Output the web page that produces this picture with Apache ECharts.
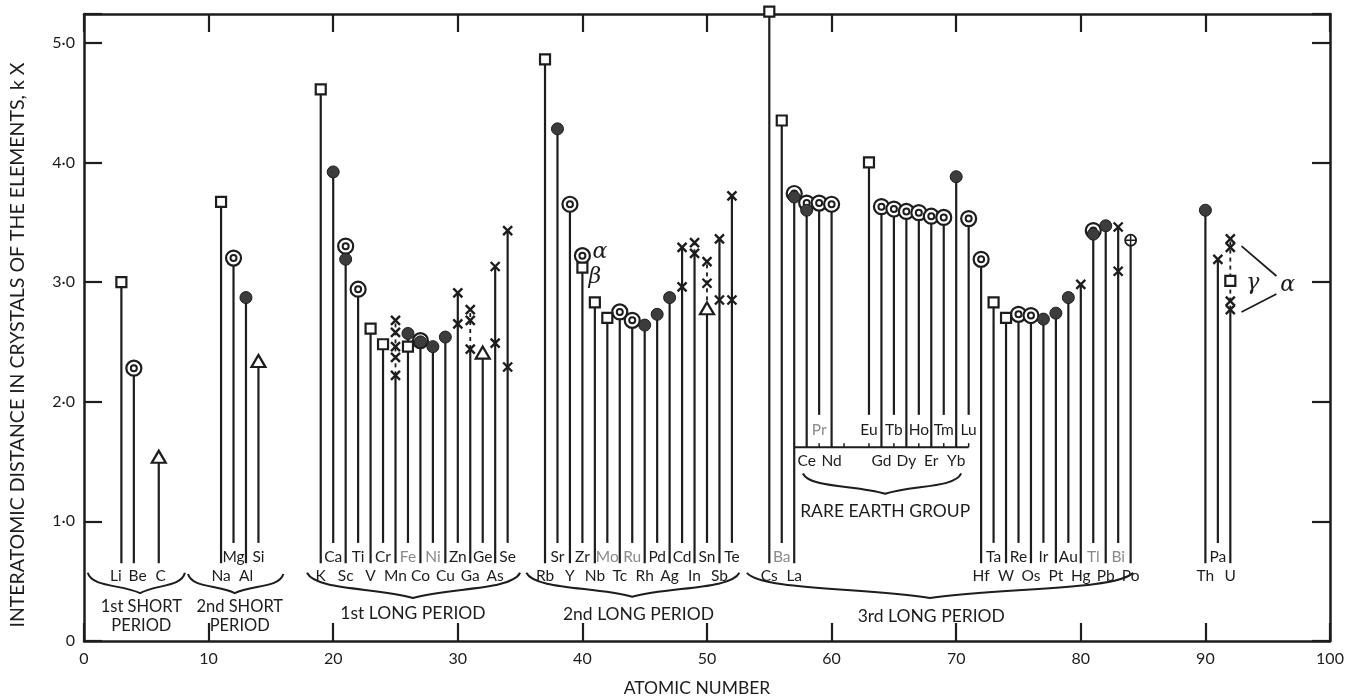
<!DOCTYPE html>
<html><head><meta charset="utf-8">
<script src="https://cdn.jsdelivr.net/npm/echarts@6/dist/echarts.min.js"></script>
<style>html,body{margin:0;padding:0;background:#fff}#c{width:1359px;height:697px}</style>
</head><body><div id="c"></div>
<script>
// ================= DATA =================
const atomicNumbers = [3,4,6,11,12,13,14,19,20,21,22,23,24,25,26,27,28,29,30,31,32,33,34,
  37,38,39,40,41,42,43,44,45,46,47,48,49,50,51,52,
  55,56,57,58,59,60,63,64,65,66,67,68,69,70,71,72,73,74,75,76,77,78,79,80,81,82,83,84,90,91,92];
const elementSymbols = ['Li','Be','C','Na','Mg','Al','Si','K','Ca','Sc','Ti','V','Cr','Mn','Fe','Co','Ni','Cu','Zn','Ga','Ge','As','Se',
  'Rb','Sr','Y','Zr','Nb','Mo','Tc','Ru','Rh','Pd','Ag','Cd','In','Sn','Sb','Te',
  'Cs','Ba','La','Ce','Pr','Nd','Eu','Gd','Tb','Dy','Ho','Er','Tm','Yb','Lu','Hf','Ta','W','Re','Os','Ir','Pt','Au','Hg','Tl','Pb','Bi','Po','Th','Pa','U'];

// [atomic number, interatomic distance kX]
const squarePoints = [[3,3.00],[11,3.67],[19,4.61],[23,2.61],[24,2.48],[26,2.46],[37,4.86],[40,3.12],[41,2.83],[42,2.70],
  [55,5.26],[56,4.35],[63,4.00],[73,2.83],[74,2.70],[92,3.01]];
const filledCirclePoints = [[13,2.87],[20,3.92],[21,3.19],[26,2.57],[27,2.50],[28,2.46],[29,2.54],[38,4.28],[45,2.64],[46,2.73],[47,2.87],
  [57,3.71],[58,3.60],[70,3.88],[77,2.69],[78,2.74],[79,2.87],[81,3.40],[82,3.47],[90,3.60]];
const doubleCirclePoints = [[4,2.28],[12,3.20],[21,3.30],[22,2.94],[27,2.51],[39,3.65],[40,3.22],[43,2.75],[44,2.68],
  [57,3.74],[58,3.66],[59,3.66],[60,3.65],[64,3.63],[65,3.61],[66,3.59],[67,3.58],[68,3.55],[69,3.54],[71,3.53],[72,3.19],
  [75,2.73],[76,2.72],[81,3.43]];
const trianglePoints = [[6,1.54],[14,2.34],[32,2.41],[50,2.78]];
const crossPoints = [[25,2.68],[25,2.58],[25,2.46],[25,2.37],[25,2.22],[30,2.91],[30,2.65],[31,2.77],[31,2.68],[31,2.44],
  [33,2.49],[33,3.13],[34,2.29],[34,3.43],[48,3.29],[48,2.96],[49,3.33],[49,3.24],[50,3.17],[50,2.99],[51,3.36],[51,2.85],
  [52,2.85],[52,3.72],[80,2.98],[83,3.46],[83,3.09],[91,3.19],[92,3.36],[92,3.29],[92,2.84],[92,2.77]];
const circledPlusPoints = [[84,3.35]];

const xTicks = [0,10,20,30,40,50,60,70,80,90,100];
const yTickLabels = ['0','1·0','2·0','3·0','4·0','5·0'];

const periodNames = ['1st SHORT\nPERIOD','2nd SHORT\nPERIOD','1st LONG PERIOD','2nd LONG PERIOD','3rd LONG PERIOD','RARE EARTH GROUP'];
const periodSpans = [[0.3,8.1],[8.35,16.0],[17.9,35.0],[35.5,52.6],[53.2,84.2],[57.7,70.4]];
const periodCentres = [4.5,12.1,26.4,44.0,67.9,64.3];
const periodTextCentres = [4.6,12.5,26.4,44.5,68.0,64.3];
const rareEarthRuler = [57,71];
const rareEarthRulerTicks = [59,61,63,65,67,69,71];

const greekNotes = [[41.4,3.25,'α'],[41.0,3.04,'β'],[93.8,2.99,'γ'],[96.6,2.97,'α']];
const noteLinks = [[92.9,3.30,95.7,3.05],[92.9,2.75,95.7,2.90]];

// ================= LAYOUT / STYLE =================
const INK = '#1d1d1d';
const FONT = 'Lato, "Open Sans", sans-serif';
const ROW = {low:{label:0.54, stem:0.65}, high:{label:0.70, stem:0.82},
             reLow:{label:1.505, stem:1.62}, reHigh:{label:1.765, stem:1.89}};
const raisedSet = new Set(['Mg','Si','Ca','Ti','Cr','Fe','Ni','Zn','Ge','Se','Sr','Zr','Mo','Ru','Pd','Cd','Sn','Te','Ba','Ta','Re','Ir','Au','Tl','Bi','Pa']);
const reLowSet = new Set(['Ce','Nd','Gd','Dy','Er','Yb']);
const reHighSet = new Set(['Pr','Eu','Tb','Ho','Tm','Lu']);
const greySet = new Set(['Fe','Ni','Mo','Ru','Pr','Tl','Bi','Ba']);
const labelShift = {Li:-0.45, Be:0.3, C:0.15};
const periodFont = ['16.5px','16.5px','17.5px','17.5px','17.5px','17.5px'];
const dashedLinks = [25,31,49,50,92];
function rowOf(s){ if(reLowSet.has(s)) return ROW.reLow; if(reHighSet.has(s)) return ROW.reHigh; if(raisedSet.has(s)) return ROW.high; return ROW.low; }

const allPoints = [].concat(squarePoints, filledCirclePoints, doubleCirclePoints, trianglePoints, crossPoints, circledPlusPoints);
const stemData = atomicNumbers.map((z,i)=>{
  const vals = allPoints.filter(p=>p[0]===z).map(p=>p[1]);
  return [z, rowOf(elementSymbols[i]).stem, Math.min(...vals), Math.max(...vals)];
});
const labelData = atomicNumbers.map((z,i)=>[z + (labelShift[elementSymbols[i]]||0), rowOf(elementSymbols[i]).label, elementSymbols[i]]);
// brace vertical placement (value units): [endY, pointY, textY]
const braceV = [[0.57,0.40,0.21],[0.56,0.40,0.21],[0.57,0.36,0.23],[0.57,0.37,0.225],[0.57,0.36,0.21],[1.40,1.23,1.085]];

const chart = echarts.init(document.getElementById('c'), null, {renderer:'canvas'});

function axisCommon(){ return {
  axisLine:{show:true, onZero:false, lineStyle:{color:INK, width:2.5}},
  axisTick:{show:true, inside:true, length:18, lineStyle:{color:INK, width:2.2}},
  splitLine:{show:false}
};}

const option = {
  animation:false,
  backgroundColor:'#ffffff',
  grid:{left:84, right:29, top:14, bottom:56, containLabel:false},
  xAxis:[
    Object.assign(axisCommon(), {type:'value', min:0, max:100, interval:10, position:'bottom',
      axisLabel:{color:INK, fontSize:16, fontFamily:FONT, margin:10,
        formatter:v=> xTicks.includes(v) ? String(v) : ''}}),
    Object.assign(axisCommon(), {type:'value', min:0, max:100, interval:10, position:'top', axisLabel:{show:false}})
  ],
  yAxis:[
    Object.assign(axisCommon(), {type:'value', min:0, max:5.24, interval:1, position:'left',
      axisLabel:{color:INK, fontSize:16, fontFamily:FONT, margin:9,
        formatter:v=> Number.isInteger(v) ? yTickLabels[v] : ''}}),
    Object.assign(axisCommon(), {type:'value', min:0, max:5.24, interval:1, position:'right', axisLabel:{show:false}})
  ],
  graphic:[
    {type:'text', x:18, y:345, rotation:Math.PI/2,
     style:{text:'INTERATOMIC DISTANCE IN CRYSTALS OF THE ELEMENTS, k X', fill:INK, font:'19.5px '+FONT,
       textAlign:'center', textVerticalAlign:'middle', align:'center', verticalAlign:'middle'}},
    {type:'text', x:697, y:688,
     style:{text:'ATOMIC NUMBER', fill:INK, font:'17.5px '+FONT,
       textAlign:'center', textVerticalAlign:'middle', align:'center', verticalAlign:'middle'}}
  ],
  series:[
    // stems
    {type:'custom', clip:false, z:2, data:stemData,
     renderItem(params, api){
       const z = api.value(0);
       const b = api.coord([z, api.value(1)]);
       const lo = api.coord([z, api.value(2)]);
       const hi = api.coord([z, api.value(3)]);
       const dashed = dashedLinks.includes(z);
       const ch = [{type:'line', shape:{x1:b[0],y1:b[1],x2:lo[0],y2:lo[1]}, style:{stroke:INK, lineWidth:2.2}}];
       if (hi[1] < lo[1]-0.5) ch.push({type:'line', shape:{x1:lo[0],y1:lo[1],x2:hi[0],y2:hi[1]},
           style:{stroke:INK, lineWidth: dashed?1.8:2.2, lineDash: dashed?[4,4]:null}});
       return {type:'group', children:ch};
     }},
    // element labels
    {type:'custom', clip:false, z:3, data:labelData,
     renderItem(params, api){
       const s = labelData[params.dataIndex][2];
       const p = api.coord([api.value(0), api.value(1)]);
       return {type:'text', x:p[0], y:p[1], style:{text:s, fill: greySet.has(s)?'#8a8a8a':INK, font:'15.5px '+FONT,
         textAlign:'center', textVerticalAlign:'middle', align:'center', verticalAlign:'middle'}};
     }},
    // braces and period names
    {type:'custom', clip:false, z:3, data:periodSpans.map((s,i)=>[s[0], s[1], periodCentres[i], periodTextCentres[i]]),
     renderItem(params, api){
       const i = params.dataIndex, v = braceV[i];
       const a = api.coord([api.value(0), v[0]]), c = api.coord([api.value(2), v[1]]), b = api.coord([api.value(1), v[0]]);
       const arm = a[1] + (c[1]-a[1])*0.62;
       const w1 = c[0]-a[0], w2 = b[0]-c[0];
       const d = `M${a[0]},${a[1]} C${a[0]+w1*0.08},${arm+2} ${c[0]-w1*0.35},${arm-1} ${c[0]},${c[1]} `+
                 `C${c[0]+w2*0.35},${arm-1} ${b[0]-w2*0.08},${arm+2} ${b[0]},${b[1]}`;
       const t = api.coord([api.value(3), v[2]]);
       return {type:'group', children:[
         {type:'path', shape:{pathData:d}, style:{stroke:INK, lineWidth:2, fill:null}},
         {type:'text', x:t[0], y:t[1], style:{text:periodNames[i], fill:INK, font:periodFont[i]+' '+FONT, lineHeight:19,
           textAlign:'center', textVerticalAlign:'middle', align:'center', verticalAlign:'middle'}}
       ]};
     }},
    // rare earth ruler
    {type:'custom', clip:false, z:3, data:[[rareEarthRuler[0], rareEarthRuler[1], ROW.reLow.stem]],
     renderItem(params, api){
       const y = api.value(2);
       const a = api.coord([api.value(0), y]), b = api.coord([api.value(1), y]);
       const ch = [{type:'line', shape:{x1:a[0],y1:a[1],x2:b[0],y2:b[1]}, style:{stroke:INK, lineWidth:2}}];
       rareEarthRulerTicks.forEach(t=>{ const p = api.coord([t, y]);
         ch.push({type:'line', shape:{x1:p[0],y1:p[1],x2:p[0],y2:p[1]-4}, style:{stroke:INK, lineWidth:1.5}}); });
       return {type:'group', children:ch};
     }},
    // note links for U
    {type:'custom', clip:false, z:3, data:noteLinks,
     renderItem(params, api){
       const a = api.coord([api.value(0), api.value(1)]), b = api.coord([api.value(2), api.value(3)]);
       return {type:'line', shape:{x1:a[0],y1:a[1],x2:b[0],y2:b[1]}, style:{stroke:INK, lineWidth:1.8}};
     }},
    // greek letters
    {type:'custom', clip:false, z:6, data:greekNotes,
     renderItem(params, api){
       const p = api.coord([api.value(0), api.value(1)]);
       return {type:'text', x:p[0], y:p[1], style:{text:greekNotes[params.dataIndex][2], fill:INK,
         font:'italic 22px "DejaVu Serif", serif', textAlign:'center', textVerticalAlign:'middle', align:'center', verticalAlign:'middle'}};
     }},
    // double circles (outer ring)
    {type:'scatter', clip:false, z:4, data:doubleCirclePoints, symbol:'circle', symbolSize:15,
     itemStyle:{color:'#fff', borderColor:INK, borderWidth:2.2, opacity:1}},
    // double circles (inner ring)
    {type:'scatter', clip:false, z:4, data:doubleCirclePoints, symbol:'circle', symbolSize:6,
     itemStyle:{color:'#fff', borderColor:INK, borderWidth:2, opacity:1}},
    // filled circles
    {type:'scatter', clip:false, z:5, data:filledCirclePoints, symbol:'circle', symbolSize:12,
     itemStyle:{color:'#3c3c3c', borderColor:INK, borderWidth:1, opacity:1}},
    // squares
    {type:'scatter', clip:false, z:5, data:squarePoints, symbol:'rect', symbolSize:10,
     itemStyle:{color:'#fff', borderColor:INK, borderWidth:2.2, opacity:1}},
    // triangles
    {type:'scatter', clip:false, z:5, data:trianglePoints, symbol:'triangle', symbolSize:[14,12],
     itemStyle:{color:'#fff', borderColor:INK, borderWidth:2.2, opacity:1}},
    // crosses
    {type:'scatter', clip:false, z:5, data:crossPoints, symbol:'path://M0,0L10,10M10,0L0,10', symbolSize:9,
     itemStyle:{color:'rgba(0,0,0,0)', borderColor:INK, borderWidth:2.4, opacity:1}},
    // circled plus
    {type:'scatter', clip:false, z:5, data:circledPlusPoints, symbol:'circle', symbolSize:11,
     itemStyle:{color:'#fff', borderColor:INK, borderWidth:1.8, opacity:1}},
    {type:'scatter', clip:false, z:6, data:circledPlusPoints, symbol:'path://M5,0L5,10M0,5L10,5', symbolSize:11,
     itemStyle:{color:'rgba(0,0,0,0)', borderColor:INK, borderWidth:1.5, opacity:1}}
  ]
};
chart.setOption(option);
</script></body></html>
